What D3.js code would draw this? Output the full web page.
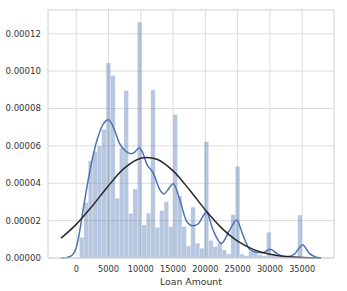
<!DOCTYPE html>
<html>
<head>
    <meta charset="utf-8">
    <script src="https://cdn.jsdelivr.net/npm/d3@7"></script>
    <style>
        body { margin: 0; background: #fff; }
        text { font-family: "DejaVu Sans", sans-serif; fill: #333; }
    </style>
</head>
<body>
    <div id="loan-chart"></div>
    <script>
        // histogram: 50 equal bins between the smallest and largest loan
        let binLow = 500;
        let binHigh = 35000;
        let binDensity = [
            1.1e-5, 2.97e-5, 5.2e-5, 5.7e-5, 6.0e-5, 6.88e-5, 1.044e-4, 9.76e-5, 3.2e-5, 5.88e-5,
            8.96e-5, 2.38e-5, 3.69e-5, 1.262e-4, 1.77e-5, 2.4e-5, 9.0e-5, 1.64e-5, 2.54e-5, 3.02e-5,
            1.68e-5, 7.67e-5, 3.32e-5, 1.68e-5, 6.4e-6, 2.72e-5, 7.9e-6, 5.2e-6, 6.22e-5, 9.3e-6,
            6.1e-6, 8.2e-6, 4.3e-6, 2.1e-6, 2.32e-5, 4.9e-5, 2.1e-6, 1.2e-6, 3.6e-6, 3.6e-6,
            1.6e-6, 1.1e-6, 1.38e-5, 1.6e-6, 1.0e-6, 1.0e-6, 8e-7, 9e-7, 1.0e-6, 2.29e-5
        ];

        // kde line
        let kdeX = [-2360, -1540, -930, -460, 0, 520, 1030, 2050, 3090, 4120, 4990, 5910, 6680, 7720,
            8490, 9000, 9720, 10190, 10910, 11930, 12960, 13580, 14200, 15020, 16050, 17080, 18100,
            18870, 20170, 21190, 22480, 23770, 24850, 25820, 26850, 27890, 28900, 30050, 31220,
            32520, 33800, 35080, 36110, 37040, 37910];
        let kdeY = [0, 2e-7, 8e-7, 2.2e-6, 5.5e-6, 1.4e-5, 2.5e-5, 4.54e-5, 6.15e-5, 7.13e-5, 7.4e-5,
            6.86e-5, 6.15e-5, 5.7e-5, 5.58e-5, 5.65e-5, 5.88e-5, 5.7e-5, 5.04e-5, 4.54e-5, 3.65e-5,
            3.43e-5, 3.65e-5, 3.97e-5, 3.11e-5, 1.98e-5, 1.72e-5, 1.82e-5, 2.44e-5, 1.5e-5, 7.8e-6,
            1.5e-5, 2.04e-5, 1.23e-5, 4.7e-6, 3.1e-6, 2.84e-6, 4.7e-6, 2.1e-6, 7e-7, 2.1e-6, 7.0e-6,
            2.5e-6, 6e-7, 0];

        // fitted normal line
        let normX = [-2360, 0, 2500, 5000, 7500, 10000, 12500, 15000, 17500, 20000, 22500, 25000,
            27500, 30000, 32500, 35000, 37910];
        let normY = [1.06e-5, 1.8e-5, 2.79e-5, 3.87e-5, 4.82e-5, 5.34e-5, 5.28e-5, 4.66e-5, 3.66e-5,
            2.57e-5, 1.61e-5, 9.0e-6, 4.5e-6, 2.0e-6, 8e-7, 3e-7, 1e-7];

        let xTicks = [0, 5000, 10000, 15000, 20000, 25000, 30000, 35000];
        let yTicks = [0, 0.00002, 0.00004, 0.00006, 0.00008, 0.00010, 0.00012];

        let width = 347, height = 291;
        let margin = { left: 48, right: 13, top: 10, bottom: 33 };

        let svg = d3.select("#loan-chart").append("svg")
            .attr("width", width).attr("height", height);

        let x = d3.scaleLinear().domain([-4374, 39928]).range([margin.left, width - margin.right]);
        let y = d3.scaleLinear().domain([0, 1.327e-4]).range([height - margin.bottom, margin.top]);

        // grid
        svg.append("g").selectAll("line").data(xTicks).join("line")
            .attr("x1", d => x(d)).attr("x2", d => x(d))
            .attr("y1", margin.top).attr("y2", height - margin.bottom)
            .attr("stroke", "#dcdcdc").attr("stroke-width", 1);
        svg.append("g").selectAll("line").data(yTicks).join("line")
            .attr("x1", margin.left).attr("x2", width - margin.right)
            .attr("y1", d => y(d)).attr("y2", d => y(d))
            .attr("stroke", "#dcdcdc").attr("stroke-width", 1);

        // bars
        let binWidth = (binHigh - binLow) / binDensity.length;
        svg.append("g").selectAll("rect").data(binDensity).join("rect")
            .attr("x", (d, i) => x(binLow + i * binWidth))
            .attr("width", (d, i) => x(binLow + (i + 1) * binWidth) - x(binLow + i * binWidth))
            .attr("y", d => y(d))
            .attr("height", d => y(0) - y(d))
            .attr("fill", "#4c72b0").attr("fill-opacity", 0.4)
            .attr("stroke", "#fff").attr("stroke-opacity", 0.4).attr("stroke-width", 0.5);

        let kdeLine = d3.line().x(d => x(d[0])).y(d => y(d[1])).curve(d3.curveMonotoneX);
        let normLine = d3.line().x(d => x(d[0])).y(d => y(d[1])).curve(d3.curveCatmullRom);

        svg.append("path").datum(d3.zip(kdeX, kdeY))
            .attr("d", kdeLine).attr("fill", "none")
            .attr("stroke", "#4c72b0").attr("stroke-width", 1.5);

        svg.append("path").datum(d3.zip(normX, normY))
            .attr("d", normLine).attr("fill", "none")
            .attr("stroke", "#282828").attr("stroke-width", 1.5);

        // frame
        svg.append("rect")
            .attr("x", margin.left).attr("y", margin.top)
            .attr("width", width - margin.left - margin.right)
            .attr("height", height - margin.top - margin.bottom)
            .attr("fill", "none").attr("stroke", "#d0d0d0").attr("stroke-width", 1);

        // tick labels
        svg.append("g").selectAll("text").data(yTicks).join("text")
            .attr("x", margin.left - 7).attr("y", d => y(d))
            .attr("dy", "0.35em").attr("text-anchor", "end")
            .style("font-size", "8.6px")
            .text(d => d.toFixed(5));
        svg.append("g").selectAll("text").data(xTicks).join("text")
            .attr("x", d => x(d)).attr("y", height - margin.bottom + 14)
            .attr("text-anchor", "middle")
            .style("font-size", "8.2px")
            .text(d => d);

        svg.append("text")
            .attr("x", (margin.left + width - margin.right) / 2).attr("y", 285)
            .attr("text-anchor", "middle")
            .style("font-size", "9.3px")
            .text("Loan Amount");
    </script>
</body>
</html>
